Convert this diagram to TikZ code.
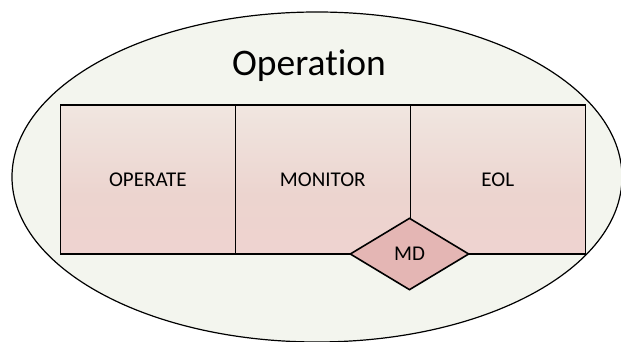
\documentclass[tikz,border=0pt]{standalone}
\usepackage{fontspec}
\setmainfont[Ligatures=NoCommon]{Carlito}
\usetikzlibrary{shapes.geometric}
\definecolor{bgfill}{RGB}{243,245,238}
\definecolor{mdfill}{RGB}{228,182,180}
\definecolor{shA}{RGB}{235,201,199}
\definecolor{shB}{RGB}{240,210,208}
\definecolor{shC}{RGB}{236,212,207}
\definecolor{shD}{RGB}{240,230,224}
\definecolor{shE}{RGB}{244,243,236}
\pgfdeclareverticalshading{boxshade}{100bp}{
  color(0bp)=(shA);
  color(15bp)=(shB);
  color(45bp)=(shC);
  color(75bp)=(shD);
  color(100bp)=(shE)}
\tikzset{
  every node/.style={font=\fontsize{21}{24}\selectfont},
  stagebox/.style={draw=black, line width=1.6pt, shading=boxshade, minimum width=175pt, minimum height=149pt, inner sep=0pt, anchor=south west},
  mdbox/.style={diamond, draw=black, line width=1.6pt, fill=mdfill, minimum width=119pt, minimum height=72pt, inner sep=0pt},
  outer/.style={draw=black, line width=1.2pt, fill=bgfill}
}
\begin{document}
\begin{tikzpicture}[x=1pt,y=1pt]
\useasboundingbox (0,0) rectangle (621,342);
\clip (0,0) rectangle (621,342);
\fill[white] (0,0) rectangle (621,342);
\draw[outer] (317,165) ellipse [x radius=305, y radius=165];
\node[font=\fontsize{37.5}{40}\selectfont] (op) at (309,276) {Operation};
\node[stagebox] (operate) at (59.5,87) {OPERATE};
\node[stagebox] (monitor) at (234.5,87) {MONITOR};
\node[stagebox] (eol) at (409.5,87) {EOL};
\node[mdbox] (md) at (409.5,88) {MD};
\end{tikzpicture}
\end{document}
